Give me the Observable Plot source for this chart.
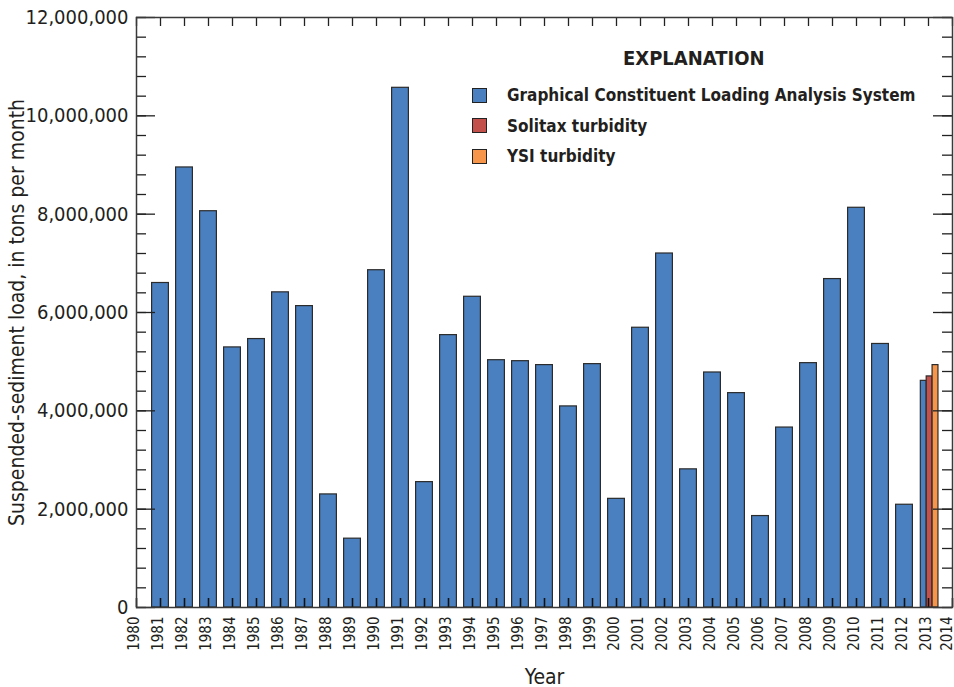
<!DOCTYPE html>
<html>
<head>
<meta charset="utf-8">
<script src="https://cdn.jsdelivr.net/npm/d3@7"></script>
<script src="https://cdn.jsdelivr.net/npm/@observablehq/plot@0.6"></script>
<style>
  html, body { margin: 0; padding: 0; background: #fff; }
  #wrap { position: relative; width: 954px; height: 687px; font-family: "DejaVu Sans Condensed", "DejaVu Sans", sans-serif; font-stretch: condensed; color: #231f20; }
  #legend { position: absolute; left: 472px; top: 46px; }
  #legend .title { position: absolute; left: 151px; top: 0; font-weight: bold; font-size: 20px; white-space: nowrap; }
  #legend .row { position: absolute; left: 0; height: 16px; display: flex; align-items: center; white-space: nowrap; }
  #legend .sw { width: 13px; height: 13px; border: 1px solid #222; box-sizing: content-box; flex: none; }
  #legend .lab { margin-left: 20px; font-weight: bold; font-size: 17px; }
</style>
</head>
<body>
<div id="wrap"></div>
<script>
// ---- data ----
const years = [1981, 1982, 1983, 1984, 1985, 1986, 1987, 1988, 1989, 1990,
               1991, 1992, 1993, 1994, 1995, 1996, 1997, 1998, 1999, 2000,
               2001, 2002, 2003, 2004, 2005, 2006, 2007, 2008, 2009, 2010,
               2011, 2012, 2013];
const gclasLoads = [6600000, 8950000, 8060000, 5290000, 5460000, 6410000, 6130000, 2300000, 1400000, 6860000,
                    10570000, 2550000, 5540000, 6320000, 5030000, 5010000, 4930000, 4090000, 4950000, 2210000,
                    5690000, 7200000, 2810000, 4780000, 4360000, 1860000, 3660000, 4970000, 6680000, 8130000,
                    5360000, 2090000, 4610000];
const solitaxYears = [2013];
const solitaxLoads = [4700000];
const ysiYears = [2013];
const ysiLoads = [4930000];

const seriesNames = ["Graphical Constituent Loading Analysis System", "Solitax turbidity", "YSI turbidity"];
const seriesColors = ["#4a80c0", "#c4504c", "#f7964a"];

const yTickValues = [0, 2000000, 4000000, 6000000, 8000000, 10000000, 12000000];
const xTickYears = [1980, 1981, 1982, 1983, 1984, 1985, 1986, 1987, 1988, 1989, 1990,
                    1991, 1992, 1993, 1994, 1995, 1996, 1997, 1998, 1999, 2000,
                    2001, 2002, 2003, 2004, 2005, 2006, 2007, 2008, 2009, 2010,
                    2011, 2012, 2013, 2014];
const yMinorStep = 400000;

// ---- build table ----
const rows = [];
years.forEach((yr, i) => {
  const group = [{s: 0, v: gclasLoads[i]}];
  const si = solitaxYears.indexOf(yr);
  if (si >= 0) group.push({s: 1, v: solitaxLoads[si]});
  const yi = ysiYears.indexOf(yr);
  if (yi >= 0) group.push({s: 2, v: ysiLoads[yi]});
  group.forEach((g, j) => rows.push({year: yr, value: g.v, series: seriesNames[g.s], slot: j, n: group.length}));
});
const minorTicks = d3.range(0, 12000000 + 1, yMinorStep);

const W = 954, H = 687, mt = 17, mb = 80, ml = 136, mr = 2;
const fw = W - ml - mr, fh = H - mt - mb;
const FONT = '"DejaVu Sans Condensed", "DejaVu Sans", sans-serif';

const barX1 = d => d.n === 1 ? d.year - 0.35 : d.year - 0.32 + d.slot * 0.245;
const barX2 = d => d.n === 1 ? d.year + 0.35 : d.year - 0.32 + (d.slot + 1) * 0.245;

const chart = Plot.plot({
  width: W, height: H,
  marginTop: mt, marginBottom: mb, marginLeft: ml, marginRight: mr,
  style: {fontFamily: FONT, fontSize: "19px", color: "#231f20", background: "#fff", overflow: "visible"},
  x: {domain: [1980, 2014]},
  y: {domain: [0, 12000000]},
  color: {domain: seriesNames, range: seriesColors},
  marks: [
    Plot.rect(rows, {x1: barX1, x2: barX2, y1: 0, y2: "value", fill: "series", stroke: "#2b2b2b", strokeWidth: 1.2}),
    // left ticks (inward)
    Plot.tickY(minorTicks, {y: d => d, insetRight: fw - 10, stroke: "#222", strokeWidth: 1.3}),
    Plot.tickY(yTickValues, {y: d => d, insetRight: fw - 19, stroke: "#222", strokeWidth: 1.3}),
    // right ticks (inward)
    Plot.tickY(minorTicks, {y: d => d, insetLeft: fw - 10, stroke: "#222", strokeWidth: 1.3}),
    Plot.tickY(yTickValues, {y: d => d, insetLeft: fw - 19, stroke: "#222", strokeWidth: 1.3}),
    // top ticks (pointing down)
    Plot.tickX(xTickYears, {x: d => d, insetBottom: fh - 9, stroke: "#222", strokeWidth: 1.3}),
    // bottom ticks (pointing up)
    Plot.tickX(xTickYears, {x: d => d, insetTop: fh - 9, stroke: "#111", strokeWidth: 1.6}),
    Plot.frame({stroke: "#3a3a3a", strokeWidth: 1.5}),
    Plot.axisY(yTickValues, {
      tickSize: 0, tickPadding: 8, tickFormat: d3.format(","), fontSize: 20,
      label: "Suspended-sediment load, in tons per month", labelAnchor: "center", labelArrow: "none", labelOffset: 127
    }),
    Plot.axisX(xTickYears, {
      tickSize: 0, tickPadding: 9, tickRotate: -90, tickFormat: d => String(d), fontSize: 15, dx: -2.5,
      label: "Year", labelAnchor: "center", labelArrow: "none", labelOffset: 76
    })
  ]
});

chart.querySelectorAll("[aria-label='y-axis label'] text").forEach(t => t.setAttribute("font-size", "21"));
chart.querySelectorAll("[aria-label='x-axis label'] text").forEach(t => t.setAttribute("font-size", "21"));
// keep the last year label (2014) inside the picture
const xLabels = chart.querySelectorAll("[aria-label='x-axis tick label'] text");
if (xLabels.length) {
  const last = xLabels[xLabels.length - 1];
  last.setAttribute("dy", (parseFloat(last.getAttribute("dy") || 0)) + "");
  const tr = last.getAttribute("transform") || "";
  last.setAttribute("transform", "translate(-3,0) " + tr);
}

const wrap = document.getElementById("wrap");
wrap.appendChild(chart);

// legend (explanation)
const legend = document.createElement("div");
legend.id = "legend";
const title = document.createElement("div");
title.className = "title";
title.textContent = "EXPLANATION";
legend.appendChild(title);
seriesNames.forEach((name, i) => {
  const row = document.createElement("div");
  row.className = "row";
  row.style.top = (41 + i * 30.5) + "px";
  const sw = document.createElement("div");
  sw.className = "sw";
  sw.style.background = seriesColors[i];
  const lab = document.createElement("span");
  lab.className = "lab";
  lab.textContent = name;
  row.appendChild(sw);
  row.appendChild(lab);
  legend.appendChild(row);
});
wrap.appendChild(legend);
</script>
</body>
</html>
